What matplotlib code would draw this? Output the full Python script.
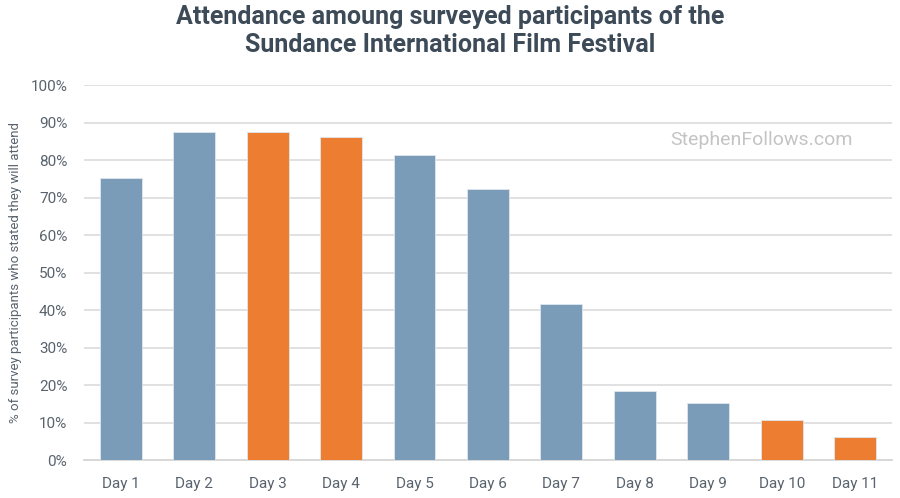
import numpy as np
import matplotlib.pyplot as plt
from matplotlib.ticker import PercentFormatter

# data
days = ['Day 1', 'Day 2', 'Day 3', 'Day 4', 'Day 5', 'Day 6',
        'Day 7', 'Day 8', 'Day 9', 'Day 10', 'Day 11']
attendance = [75.3, 87.6, 87.6, 86.1, 81.3, 72.3, 41.5, 18.3, 15.3, 10.7, 6.1]
highlight = [False, False, True, True, False, False, False, False, False, True, True]

blue = '#7a9cb8'
orange = '#ed7d31'
text_col = '#3d4a57'
tick_col = '#59636d'

plt.rcParams['font.family'] = ['Roboto', 'DejaVu Sans']

fig = plt.figure(figsize=(9, 4.98), dpi=100)
ax = fig.add_axes([0.0933, 0.0763, 0.8977, 0.7530])

x = np.arange(len(days))
colors = [orange if h else blue for h in highlight]
ax.bar(x, attendance, width=0.57, color=colors, edgecolor='#dfe6ee', linewidth=0.6, zorder=3)

ax.set_xlim(-0.5, len(days) - 0.5)
ax.set_ylim(0, 100)
ax.set_yticks(np.arange(0, 101, 10))
ax.yaxis.set_major_formatter(PercentFormatter(decimals=0))
ax.set_xticks(x)
ax.set_xticklabels(days)

ax.grid(axis='y', color='#dedede', linewidth=1.3, zorder=0)
for s in ['top', 'right', 'left']:
    ax.spines[s].set_visible(False)
ax.spines['bottom'].set_color('#d6d6d6')
ax.spines['bottom'].set_linewidth(1.3)
ax.tick_params(axis='both', length=0, labelsize=11, labelcolor=tick_col)
ax.tick_params(axis='y', pad=12)
ax.tick_params(axis='x', pad=12)

ax.set_ylabel('% of survey participants who stated they will attend',
              fontsize=9.5, color=tick_col, labelpad=6)

fig.suptitle('Attendance amoung surveyed participants of the\nSundance International Film Festival',
             x=0.5, y=0.99, fontsize=18, fontweight='bold', color=text_col,
             linespacing=1.2)

ax.text(0.952, 0.853, 'StephenFollows.com', transform=ax.transAxes,
        ha='right', va='center', fontsize=14, color='#c4c4c4')

fig.savefig('out.png', dpi=100)
